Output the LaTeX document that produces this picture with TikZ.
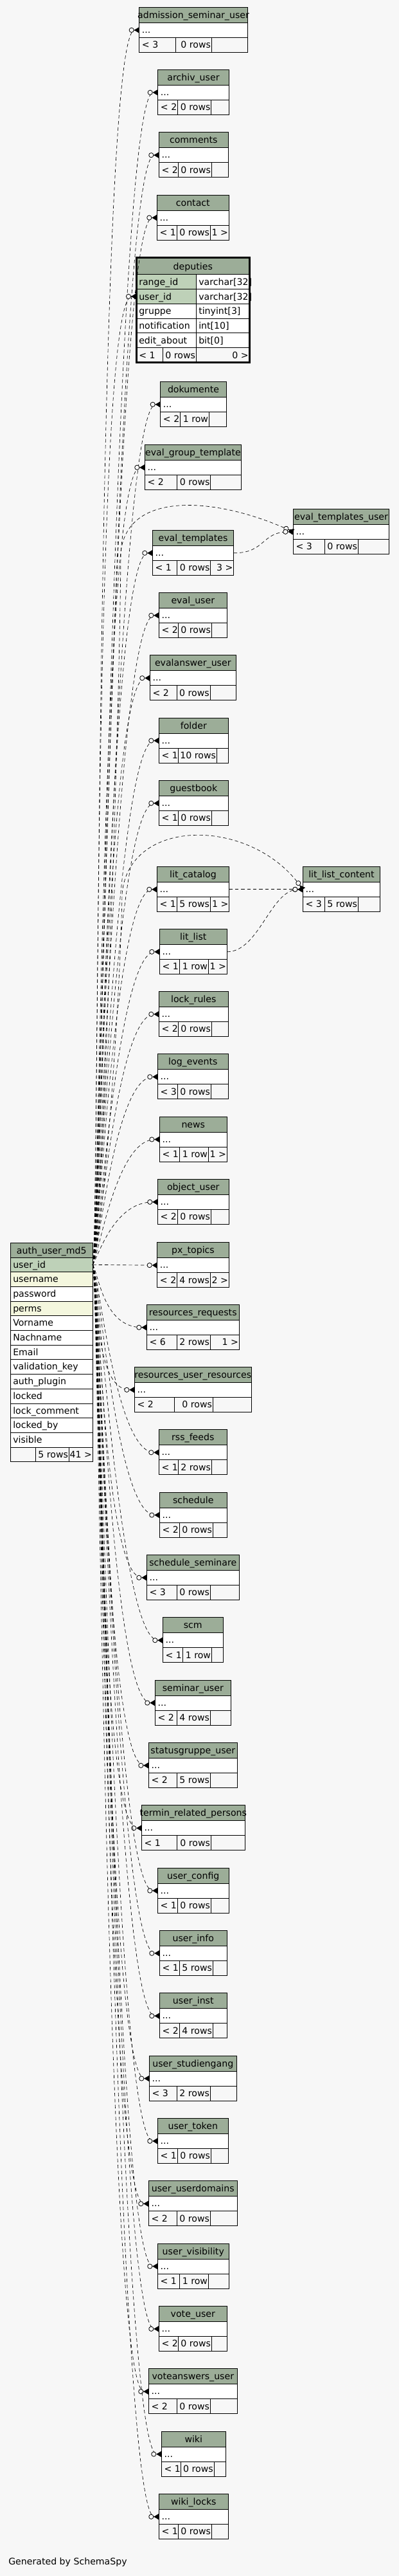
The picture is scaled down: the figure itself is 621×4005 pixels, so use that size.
\documentclass[tikz,border=0pt]{standalone}
\usepackage{fontspec}
\setmainfont{DejaVu Sans}
\usetikzlibrary{arrows.meta}
\definecolor{bgc}{HTML}{F7F7F7}
\definecolor{hdr}{HTML}{9CAD98}
\definecolor{pk}{HTML}{BED1B8}
\definecolor{idx}{HTML}{F4F7DE}
\tikzset{
  cell/.style={draw=black, line width=.75pt},
  rowbox/.style={cell, inner sep=0pt, outer sep=0pt, anchor=north west},
  txt/.style={font=\fontsize{10.6}{12}\selectfont, inner sep=0pt},
  rel/.style={line width=.5pt, dash pattern=on 4pt off 3pt,
    -{Circle[length=6pt,width=6pt,line width=.6pt,fill=bgc] Triangle[reversed,length=6pt,width=7pt]}},
}
\begin{document}
\catcode`\_=12
\begin{tikzpicture}[x=0.75pt,y=-0.75pt]
  \useasboundingbox (0,0) rectangle (621,4005);
  \fill[bgc] (0,0) rectangle (621,4005);

  % auth_user_md5 (parent)
  \draw[cell, fill=hdr] (16.3,1932.3) rectangle (144.3,1955);
  \node[txt, anchor=base] at (80.3,1949) {auth_user_md5};
  \foreach \c/\f [count=\i from 0] in {user_id/pk, username/idx, password/white, perms/idx,
      Vorname/white, Nachname/white, Email/white, validation_key/white, auth_plugin/white,
      locked/white, lock_comment/white, locked_by/white, visible/white}{
    \node[rowbox, fill=\f, minimum width=96pt, minimum height={22.7*0.75pt}] (auth-\c) at (16.3,1955+\i*22.7) {};
    \node[txt, anchor=base west] at (20,1955+\i*22.7+16) {\c};
  }
  \draw[cell, fill=bgc] (16.3,2250.1) rectangle (55.3,2272.8) (55.3,2250.1) rectangle (107.3,2272.8)
    (107.3,2250.1) rectangle (144.3,2272.8);
  \node[txt, anchor=base east] at (106.3,2266.5) {5 rows};
  \node[txt, anchor=base east] at (143.3,2266.5) {41 >};

  % deputies
  \draw[cell, fill=hdr] (212,400.7) rectangle (388.7,426.7);
  \node[txt, anchor=base] at (300.3,419) {deputies};
  \foreach \c/\ty/\f [count=\i from 0] in {range_id/varchar[32]/pk, user_id/varchar[32]/pk,
      gruppe/tinyint[3]/white, notification/int[10]/white, edit_about/bit[0]/white}{
    \node[rowbox, fill=\f, minimum width=70pt, minimum height={22.8*0.75pt}] (deputies-\c) at (212,426.7+\i*22.8) {};
    \draw[cell, fill=white] (305.3,426.7+\i*22.8) rectangle (388.7,426.7+\i*22.8+22.8);
    \node[txt, anchor=base west] at (216,426.7+\i*22.8+16.5) {\c};
    \node[txt, anchor=base west] at (309,426.7+\i*22.8+16.5) {\ty};
  }
  \draw[cell, fill=bgc] (212,540.7) rectangle (253.3,563.5) (253.3,540.7) rectangle (305.3,563.5)
    (305.3,540.7) rectangle (388.7,563.5);
  \node[txt, anchor=base west] at (216,557.2) {< 1};
  \node[txt, anchor=base east] at (304.3,557.2) {0 rows};
  \node[txt, anchor=base east] at (387,557.2) {0 >};
  \draw[line width=2.25pt] (212,400.7) rectangle (388.7,563.5);

  % child tables: name/left/right/top/split1/split2/<n/rows/n>
  \foreach \nm/\l/\r/\t/\sa/\sb/\lt/\rw/\gt in {
      admission_seminar_user/216.7/385.3/11.3/273.3/329.3/< 3/0 rows/{},
      archiv_user/245.7/356.3/108.3/276.7/328.7/< 2/0 rows/{},
      comments/247.3/355.3/205.7/277.3/329.3/< 2/0 rows/{},
      contact/244.3/356.3/303/275.3/327.3/< 1/0 rows/1 >,
      dokumente/249.7/352.3/593.3/280.3/325.3/< 2/1 row/{},
      eval_group_template/225.3/375.7/691.3/275.3/327.7/< 2/0 rows/{},
      eval_templates/237.3/363.7/824.3/275.3/327.7/< 1/0 rows/3 >,
      eval_templates_user/456.3/605.7/791.3/505.3/557.3/< 3/0 rows/{},
      eval_user/247.3/353.3/921.3/277.3/329.3/< 2/0 rows/{},
      evalanswer_user/233.3/367.3/1018.7/275.3/327/< 2/0 rows/{},
      folder/247.3/355.3/1116/277.3/337.3/< 1/10 rows/{},
      guestbook/247.3/355.3/1213.3/277.3/329.3/< 1/0 rows/{},
      lit_catalog/244.3/356.7/1347.3/275.3/327.3/< 1/5 rows/1 >,
      lit_list_content/471.3/591.7/1347.3/505.3/557.3/< 3/5 rows/{},
      lit_list/248.3/353.3/1444.3/279.3/324.3/< 1/1 row/1 >,
      lock_rules/247.3/355.3/1541.3/277.3/329.3/< 2/0 rows/{},
      log_events/245.3/355.3/1638.7/276.3/328.3/< 3/0 rows/{},
      news/248.3/353.3/1736/279.3/324.3/< 1/1 row/1 >,
      object_user/245.3/356.3/1833.3/276.3/328.3/< 2/0 rows/{},
      px_topics/244.7/356.3/1931.7/275.3/327.3/< 2/4 rows/2 >,
      resources_requests/228.3/372.3/2028.3/275.3/327.3/< 6/2 rows/1 >,
      resources_user_resources/209.3/391.3/2125.3/271.3/331.3/< 2/0 rows/{},
      rss_feeds/247.3/353.3/2222.7/277.3/329.3/< 1/2 rows/{},
      schedule/248.3/353.3/2320/279.3/331.3/< 2/0 rows/{},
      schedule_seminare/228.3/372.3/2417.3/275.7/327.3/< 3/0 rows/{},
      scm/253.3/347.3/2514.7/284.3/329.3/< 1/1 row/{},
      seminar_user/241.3/359.3/2612/275.3/327.3/< 2/4 rows/{},
      statusgruppe_user/231.3/369.3/2709.3/275.3/327.3/< 2/5 rows/{},
      termin_related_persons/220.3/381.3/2806.7/275.3/328.3/< 1/0 rows/{},
      user_config/245.3/356.3/2904/276.3/328.3/< 1/0 rows/{},
      user_info/248.3/353.3/3001.3/279.3/331.3/< 1/5 rows/{},
      user_inst/248.3/353.3/3098.7/279.3/331.3/< 2/4 rows/{},
      user_studiengang/232.3/368.3/3196/275.3/327.3/< 3/2 rows/{},
      user_token/245.3/355.3/3293.3/276.3/328.3/< 1/0 rows/{},
      user_userdomains/231.3/369.3/3390.7/275.3/327.3/< 2/0 rows/{},
      user_visibility/245.3/356.3/3488/279.3/324.3/< 1/1 row/{},
      vote_user/247.3/353.3/3585.3/277.3/329.3/< 2/0 rows/{},
      voteanswers_user/231.3/369.3/3682.7/275.3/327.3/< 2/0 rows/{},
      wiki/251.3/351.3/3780/281.7/333/< 1/0 rows/{},
      wiki_locks/247.3/355.3/3877.3/277.3/329.3/< 1/0 rows/{}}{
    \draw[cell, fill=hdr] (\l,\t) rectangle (\r,\t+24);
    \node[txt, anchor=base] at ({(\l+\r)/2},\t+17) {\nm};
    \node[rowbox, fill=white, minimum width={(\r-\l)*0.75pt}, minimum height={23*0.75pt}] (\nm) at (\l,\t+24) {};
    \node[txt, anchor=base west] at (\l+4,\t+40) {...};
    \draw[cell, fill=bgc] (\l,\t+47) rectangle (\sa,\t+70) (\sa,\t+47) rectangle (\sb,\t+70)
      (\sb,\t+47) rectangle (\r,\t+70);
    \node[txt, anchor=base west] at (\l+4,\t+63.5) {\lt};
    \node[txt, anchor=base east] at (\sb-1,\t+63.5) {\rw};
    \node[txt, anchor=base east] at (\r-1,\t+63.5) {\gt};
  }

  % relationships from auth_user_md5.user_id
  \foreach \nm in {admission_seminar_user, archiv_user, comments, contact, deputies-user_id, dokumente,
      eval_group_template, eval_templates, eval_user, evalanswer_user, folder, guestbook, lit_catalog,
      lit_list, lock_rules, log_events, news, object_user}
    \draw[rel] (auth-user_id.east) .. controls +(10,-17) and +(-67,0) .. (\nm.west);
  \draw[rel] (auth-user_id.east) -- (px_topics.west);
  \foreach \nm in {resources_requests, resources_user_resources, rss_feeds, schedule, schedule_seminare,
      scm, seminar_user, statusgruppe_user, termin_related_persons, user_config, user_info, user_inst,
      user_studiengang, user_token, user_userdomains, user_visibility, vote_user, voteanswers_user,
      wiki, wiki_locks}
    \draw[rel] (auth-user_id.east) .. controls +(10,17) and +(-67,0) .. (\nm.west);
  \draw[rel] (auth-user_id.east) .. controls +(12,-25) and (186,1150) .. (188,860)
    .. controls (196,765) and (330,770) .. (eval_templates_user.west);
  \draw[rel] (auth-user_id.east) .. controls +(12,-25) and (186,1600) .. (190,1390)
    .. controls (200,1270) and (390,1270) .. (lit_list_content.west);

  % relationships between children
  \draw[rel] (eval_templates.east) .. controls +(50,0) and +(-50,0) .. (eval_templates_user.west);
  \draw[rel] (lit_catalog.east) -- (lit_list_content.west);
  \draw[rel] (lit_list.east) .. controls +(50,0) and +(-50,0) .. (lit_list_content.west);

  \node[txt, anchor=base west] (credit) at (13,3987) {Generated by SchemaSpy};
\end{tikzpicture}
\end{document}
